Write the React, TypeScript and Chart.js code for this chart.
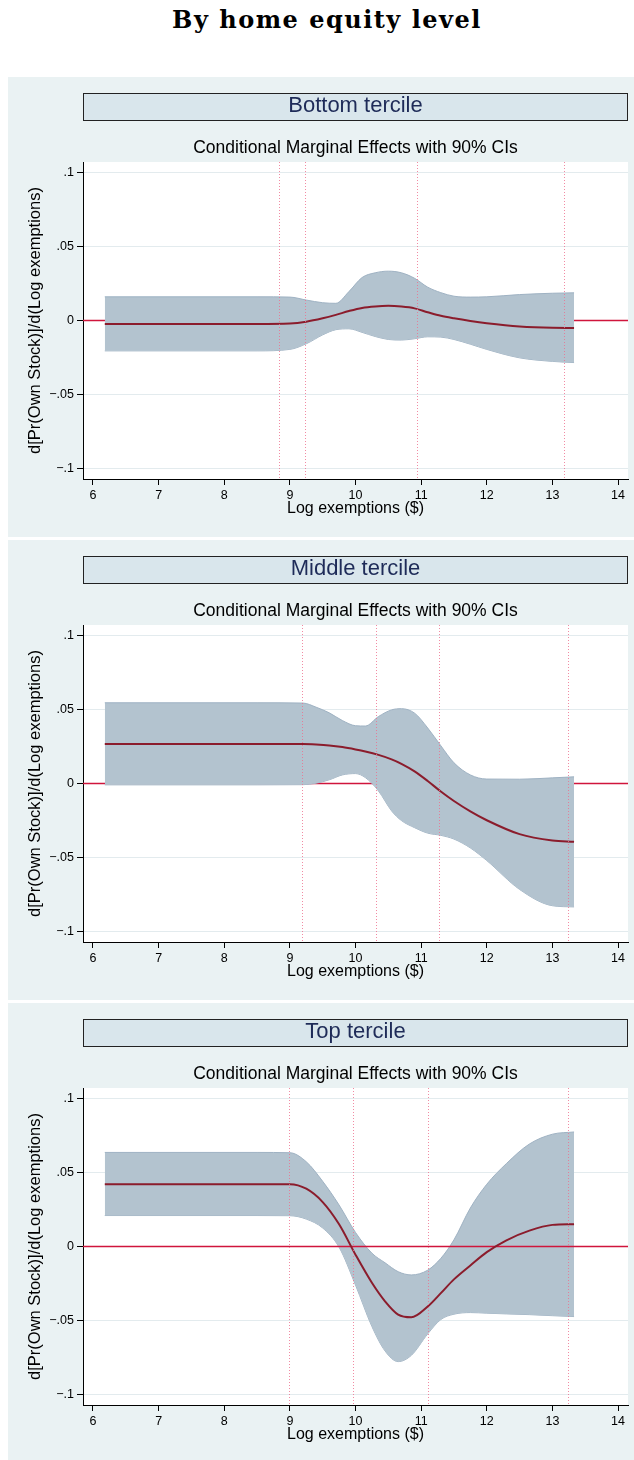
import React, { useEffect, useRef } from "react";
import { Chart, registerables } from "chart.js";

Chart.register(...registerables);

// ---------- text ----------
const pageTitle = "By home equity level";
const subTitle = "Conditional Marginal Effects with 90% CIs";
const xAxisTitle = "Log exemptions ($)";
const yAxisTitle = "d[Pr(Own Stock)]/d(Log exemptions)";

// ---------- axes ----------
const xTickValues = [6, 7, 8, 9, 10, 11, 12, 13, 14];
const yTickValues = [-0.1, -0.05, 0, 0.05, 0.1];
const yTickLabels = ["\u2212.1", "\u2212.05", "0", ".05", ".1"];
const xRange = [5.848, 14.152];
const yRange = [-0.107, 0.107];

// ---------- Bottom tercile ----------
const bottomTitle = "Bottom tercile";
const bottomX = [6.18, 8.5, 9.0, 9.25, 9.5, 9.7, 9.9, 10.1, 10.3, 10.5, 10.7, 10.9, 11.1, 11.3, 11.5, 11.75, 12.0, 12.5, 13.0, 13.33];
const bottomUpper = [0.016, 0.016, 0.0158, 0.0138, 0.012, 0.0116, 0.0195, 0.029, 0.0322, 0.0333, 0.0322, 0.0285, 0.0225, 0.0188, 0.0164, 0.0158, 0.016, 0.0175, 0.0184, 0.0187];
const bottomMean = [-0.0023, -0.0023, -0.002, -0.0008, 0.0015, 0.0038, 0.0064, 0.0085, 0.0095, 0.0099, 0.0094, 0.0082, 0.0056, 0.0032, 0.0015, -0.0003, -0.0018, -0.004, -0.0049, -0.005];
const bottomLower = [-0.0205, -0.0205, -0.0195, -0.0157, -0.0097, -0.0062, -0.0056, -0.008, -0.0108, -0.0128, -0.0132, -0.0123, -0.011, -0.0112, -0.0128, -0.016, -0.0195, -0.0252, -0.0276, -0.0284];
const bottomCutoffs = [8.834, 9.23, 10.937, 13.182];

// ---------- Middle tercile ----------
const middleTitle = "Middle tercile";
const middleX = [6.18, 8.5, 9.2, 9.4, 9.6, 9.8, 10.0, 10.15, 10.35, 10.55, 10.7, 10.9, 11.1, 11.3, 11.5, 11.75, 12.0, 12.5, 13.0, 13.33];
const middleUpper = [0.0545, 0.0545, 0.0543, 0.0515, 0.0477, 0.0425, 0.039, 0.0388, 0.0452, 0.0497, 0.0505, 0.0475, 0.0375, 0.0255, 0.014, 0.0058, 0.003, 0.0029, 0.0038, 0.0045];
const middleMean = [0.0266, 0.0266, 0.0266, 0.0263, 0.0257, 0.0246, 0.023, 0.0216, 0.0193, 0.0163, 0.0133, 0.0082, 0.0017, -0.0054, -0.0118, -0.0188, -0.0248, -0.0342, -0.0385, -0.0394];
const middleLower = [-0.0009, -0.0009, -0.0008, 0.0002, 0.0025, 0.0058, 0.0067, 0.004, -0.005, -0.0185, -0.025, -0.0298, -0.0335, -0.035, -0.0375, -0.0435, -0.052, -0.0715, -0.0825, -0.0833];
const middleCutoffs = [9.185, 10.308, 11.279, 13.244];

// ---------- Top tercile ----------
const topTitle = "Top tercile";
const topX = [6.18, 8.5, 9.0, 9.25, 9.5, 9.75, 10.0, 10.25, 10.45, 10.65, 10.85, 11.1, 11.3, 11.5, 11.75, 12.0, 12.3, 12.65, 13.0, 13.33];
const topUpper = [0.0635, 0.0635, 0.0633, 0.0572, 0.044, 0.028, 0.0095, -0.0045, -0.011, -0.017, -0.0192, -0.016, -0.008, 0.0045, 0.026, 0.042, 0.056, 0.0692, 0.0758, 0.0773];
const topMean = [0.0421, 0.0421, 0.0421, 0.039, 0.03, 0.015, -0.0055, -0.0245, -0.037, -0.046, -0.0478, -0.0405, -0.0315, -0.0222, -0.0128, -0.0038, 0.0042, 0.0107, 0.0146, 0.0151];
const topLower = [0.0209, 0.0209, 0.0208, 0.0185, 0.0125, -0.0005, -0.026, -0.054, -0.0705, -0.0777, -0.0735, -0.059, -0.0493, -0.0457, -0.0446, -0.045, -0.0455, -0.046, -0.0467, -0.0473];
const topCutoffs = [8.985, 9.957, 11.107, 13.244];

// ---------- style ----------
const SANS = "'Liberation Sans', Arial, Helvetica, sans-serif";
const PANEL_BG = "#eaf2f3";
const HEADER_BG = "#d9e6ec";
const BAND_FILL = "#b3c3cf";
const BAND_EDGE = "#9fb2c3";
const MEAN_COLOR = "#8b1c2c";
const ZERO_COLOR = "#d0153c";
const CUT_COLOR = "rgba(238, 110, 140, 0.8)";
const GRID_COLOR = "#e3ebee";

const CANVAS_W = 626;
const CANVAS_H = 460;

type PanelProps = {
  title: string;
  xs: number[];
  upper: number[];
  mean: number[];
  lower: number[];
  cutoffs: number[];
  zeroFront: boolean;
  top: number;
};

const decorPlugin = {
  id: "panelDecor",
  beforeDraw(chart: any) {
    const { ctx, chartArea: a } = chart;
    ctx.save();
    ctx.fillStyle = PANEL_BG;
    ctx.fillRect(0, 0, chart.width, chart.height);
    ctx.fillStyle = "#ffffff";
    ctx.fillRect(a.left, a.top, a.right - a.left, a.bottom - a.top);
    ctx.restore();
  },
  afterDatasetsDraw(chart: any, _args: any, opts: any) {
    const { ctx, chartArea: a } = chart;
    const xs = chart.scales.x;
    ctx.save();
    ctx.strokeStyle = CUT_COLOR;
    ctx.lineWidth = 1;
    ctx.setLineDash([1, 2]);
    for (const v of opts.cutoffs || []) {
      const px = Math.round(xs.getPixelForValue(v)) + 0.5;
      ctx.beginPath();
      ctx.moveTo(px, a.top);
      ctx.lineTo(px, a.bottom);
      ctx.stroke();
    }
    ctx.restore();
  },
};

function toPoints(xs: number[], ys: number[]) {
  return xs.map((x, i) => ({ x, y: ys[i] }));
}

function Panel(p: PanelProps) {
  const ref = useRef<HTMLCanvasElement | null>(null);

  useEffect(() => {
    if (!ref.current) return;
    const chart = new Chart(ref.current, {
      type: "line",
      data: {
        datasets: [
          {
            data: toPoints(p.xs, p.lower),
            borderColor: BAND_EDGE,
            borderWidth: 1,
            pointRadius: 0,
            fill: false,
            cubicInterpolationMode: "monotone",
            order: 3,
          },
          {
            data: toPoints(p.xs, p.upper),
            borderColor: BAND_EDGE,
            borderWidth: 1,
            pointRadius: 0,
            backgroundColor: BAND_FILL,
            fill: "-1",
            cubicInterpolationMode: "monotone",
            order: 2,
          },
          {
            data: [
              { x: xRange[0], y: 0 },
              { x: xRange[1], y: 0 },
            ],
            borderColor: ZERO_COLOR,
            borderWidth: 1.5,
            pointRadius: 0,
            fill: false,
            order: p.zeroFront ? 1 : 4,
          },
          {
            data: toPoints(p.xs, p.mean),
            borderColor: MEAN_COLOR,
            borderWidth: 2,
            pointRadius: 0,
            fill: false,
            cubicInterpolationMode: "monotone",
            order: 0,
          },
        ],
      } as any,
      options: {
        animation: false,
        responsive: false,
        devicePixelRatio: 1,
        events: [],
        layout: { padding: { left: 0, right: 6, top: 85, bottom: 18 } },
        plugins: {
          legend: { display: false },
          tooltip: { enabled: false },
          title: { display: false },
          panelDecor: { cutoffs: p.cutoffs },
        } as any,
        scales: {
          x: {
            type: "linear",
            min: xRange[0],
            max: xRange[1],
            afterBuildTicks: (s: any) => {
              s.ticks = xTickValues.map((v) => ({ value: v }));
            },
            afterFit: (s: any) => {
              s.height = 40;
            },
            ticks: {
              autoSkip: false,
              maxRotation: 0,
              padding: 3,
              color: "#000",
              font: { family: SANS, size: 12.5 },
              callback: (v: any) => String(v),
            },
            grid: { drawOnChartArea: false, drawTicks: true, tickLength: 6, tickColor: "#000" },
            border: { color: "#000", width: 1 },
            title: {
              display: true,
              text: xAxisTitle,
              color: "#000",
              font: { family: SANS, size: 16 },
              padding: { top: 0, bottom: 1 },
            },
          },
          y: {
            type: "linear",
            min: yRange[0],
            max: yRange[1],
            afterBuildTicks: (s: any) => {
              s.ticks = yTickValues.map((v) => ({ value: v }));
            },
            afterFit: (s: any) => {
              s.width = 75;
            },
            ticks: {
              autoSkip: false,
              padding: 3,
              color: "#000",
              font: { family: SANS, size: 12.5 },
              callback: (v: any) => {
                const i = yTickValues.findIndex((t) => Math.abs(t - Number(v)) < 1e-9);
                return i >= 0 ? yTickLabels[i] : "";
              },
            },
            grid: { color: GRID_COLOR, lineWidth: 1, drawTicks: true, tickLength: 6, tickColor: "#000" },
            border: { color: "#000", width: 1 },
            title: {
              display: true,
              text: yAxisTitle,
              color: "#000",
              font: { family: SANS, size: 16.5 },
              padding: { top: 18, bottom: 0 },
            },
          },
        },
      } as any,
      plugins: [decorPlugin as any],
    });
    return () => chart.destroy();
  }, []);

  return (
    <div
      style={{
        position: "absolute",
        left: 8,
        top: p.top,
        width: CANVAS_W,
        height: CANVAS_H,
        background: PANEL_BG,
      }}
    >
      <canvas ref={ref} width={CANVAS_W} height={CANVAS_H} style={{ display: "block", width: CANVAS_W, height: CANVAS_H }} />
      <div
        style={{
          position: "absolute",
          left: 75,
          top: 16,
          width: 545,
          height: 28,
          boxSizing: "border-box",
          border: "1px solid #222",
          background: HEADER_BG,
          color: "#1e2b58",
          fontFamily: SANS,
          fontSize: 22,
          lineHeight: "22px",
          textAlign: "center",
          whiteSpace: "nowrap",
        }}
      >
        {p.title}
      </div>
      <div
        style={{
          position: "absolute",
          left: 75,
          top: 61.5,
          width: 545,
          color: "#000",
          fontFamily: SANS,
          fontSize: 17.5,
          lineHeight: "17.5px",
          textAlign: "center",
          whiteSpace: "nowrap",
        }}
      >
        {subTitle}
      </div>
    </div>
  );
}

export default function App() {
  return (
    <div
      style={{
        position: "absolute",
        left: 0,
        top: 0,
        width: 634,
        height: 1460,
        overflow: "hidden",
        background: "#ffffff",
      }}
    >
      <div
        style={{
          position: "absolute",
          left: 27,
          top: 8,
          width: 600,
          textAlign: "center",
          fontFamily: "'DejaVu Serif', serif",
          fontWeight: "bold",
          fontSize: 24,
          lineHeight: "24px",
          letterSpacing: 1.5,
          color: "#000",
          whiteSpace: "nowrap",
        }}
      >
        {pageTitle}
      </div>
      <Panel title={bottomTitle} xs={bottomX} upper={bottomUpper} mean={bottomMean} lower={bottomLower} cutoffs={bottomCutoffs} zeroFront={false} top={77} />
      <Panel title={middleTitle} xs={middleX} upper={middleUpper} mean={middleMean} lower={middleLower} cutoffs={middleCutoffs} zeroFront={false} top={540} />
      <Panel title={topTitle} xs={topX} upper={topUpper} mean={topMean} lower={topLower} cutoffs={topCutoffs} zeroFront={true} top={1003} />
    </div>
  );
}
